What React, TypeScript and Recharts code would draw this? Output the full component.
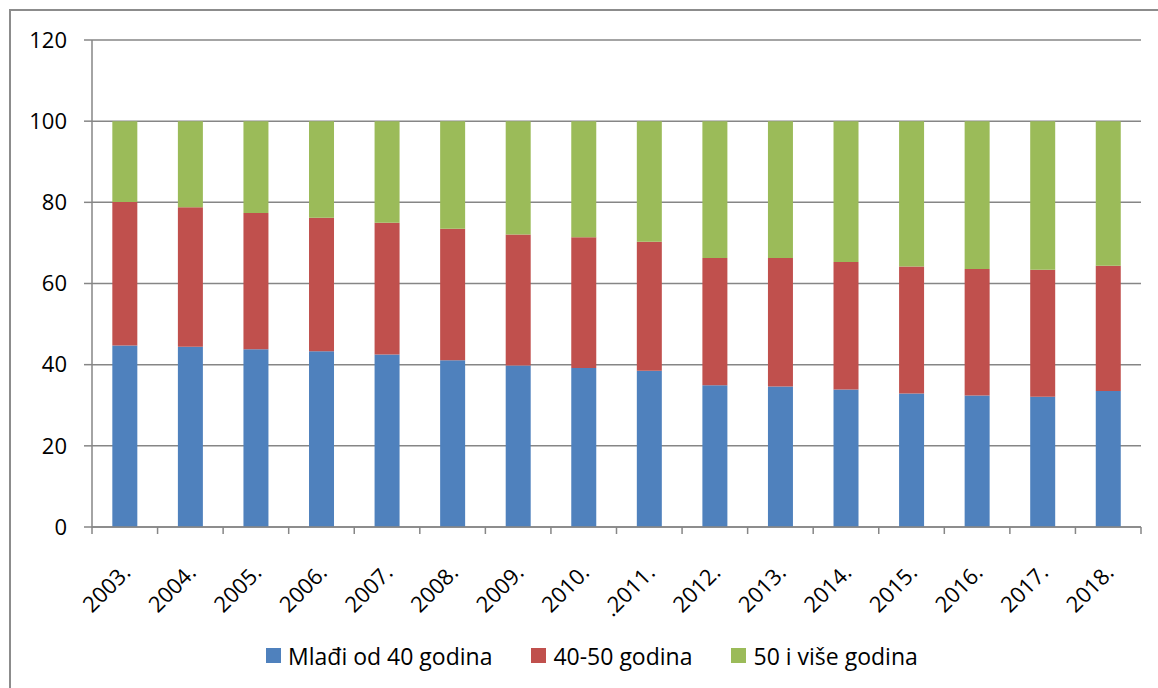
import React from "react"
import { BarChart, Bar, XAxis, YAxis, CartesianGrid } from "recharts"

const years = [
  "2003.", "2004.", "2005.", "2006.", "2007.", "2008.", "2009.", "2010.",
  ".2011.", "2012.", "2013.", "2014.", "2015.", "2016.", "2017.", "2018.",
]
const youngShare = [44.7, 44.4, 43.8, 43.3, 42.5, 41.1, 39.8, 39.2, 38.5, 34.9, 34.6, 33.9, 32.9, 32.4, 32.1, 33.5]
const midShare = [35.4, 34.4, 33.6, 32.9, 32.5, 32.4, 32.3, 32.2, 31.8, 31.4, 31.7, 31.4, 31.3, 31.2, 31.3, 30.9]
const oldShare = [19.9, 21.2, 22.6, 23.8, 25.0, 26.5, 27.9, 28.6, 29.7, 33.7, 33.7, 34.7, 35.8, 36.4, 36.6, 35.6]
const yTicks = [0, 20, 40, 60, 80, 100, 120]

const series = [
  { key: "young", name: "Mlađi od 40 godina", color: "#4F81BD" },
  { key: "mid", name: "40-50 godina", color: "#C0504D" },
  { key: "old", name: "50 i više godina", color: "#9BBB59" },
]

const data = years.map((year, i) => ({
  year,
  young: youngShare[i],
  mid: midShare[i],
  old: oldShare[i],
}))

const FONT = "'Open Sans', 'Noto Sans', sans-serif"
const AXIS = "#868686"
const W = 1158
const H = 688
const PLOT_LEFT = 92
const PLOT_RIGHT = 1141
const BAND = (PLOT_RIGHT - PLOT_LEFT) / years.length

function YearTick(props: any) {
  const { x, y, payload, index } = props
  const left = x - BAND / 2
  const tx = x + 7
  const ty = y + 47
  return (
    <g>
      <line x1={left} y1={y} x2={left} y2={y + 7} stroke={AXIS} strokeWidth={1.5} />
      {index === years.length - 1 && (
        <line x1={left + BAND} y1={y} x2={left + BAND} y2={y + 7} stroke={AXIS} strokeWidth={1.5} />
      )}
      <text
        x={tx}
        y={ty}
        textAnchor="end"
        transform={`rotate(-45, ${tx}, ${ty})`}
        fontSize={22}
        fontFamily={FONT}
        fill="#000"
      >
        {payload.value}
      </text>
    </g>
  )
}

function ValueTick(props: any) {
  const { x, y, payload } = props
  return (
    <text x={x} y={y} dy="0.355em" textAnchor="end" fontSize={22} fontFamily={FONT} fill="#000">
      {payload.value}
    </text>
  )
}

export default function App() {
  return (
    <div style={{ position: "absolute", left: 0, top: 0, width: W, height: H, overflow: "hidden", background: "#fff" }}>
      <div
        style={{
          position: "absolute",
          left: 9,
          top: 9,
          width: 1300,
          height: 900,
          border: "2px solid #8c8c8c",
        }}
      />
      <div style={{ position: "absolute", left: 0, top: 0 }}>
        <BarChart
          width={W}
          height={H}
          data={data}
          margin={{ top: 40, right: W - PLOT_RIGHT, bottom: 0, left: 0 }}
          barCategoryGap="31%"
        >
          <CartesianGrid vertical={false} stroke={AXIS} strokeWidth={1.5} />
          <XAxis
            dataKey="year"
            interval={0}
            height={H - 527}
            tickSize={0}
            tickMargin={0}
            tickLine={false}
            axisLine={{ stroke: AXIS, strokeWidth: 1.5 }}
            tick={<YearTick />}
          />
          <YAxis
            domain={[0, 120]}
            ticks={yTicks}
            width={PLOT_LEFT}
            tickSize={8}
            tickMargin={17}
            tickLine={{ stroke: AXIS, strokeWidth: 1.5 }}
            axisLine={{ stroke: AXIS, strokeWidth: 1.5 }}
            tick={<ValueTick />}
          />
          {series.map((s) => (
            <Bar key={s.key} dataKey={s.key} name={s.name} stackId="a" fill={s.color} isAnimationActive={false} />
          ))}
        </BarChart>
      </div>
      <div
        style={{
          position: "absolute",
          left: 266,
          top: 640,
          height: 31,
          display: "flex",
          alignItems: "center",
          gap: 39,
          fontFamily: FONT,
          fontSize: 23,
          color: "#000",
          whiteSpace: "nowrap",
        }}
      >
        {series.map((s) => (
          <div key={s.key} style={{ display: "flex", alignItems: "center", gap: 7 }}>
            <span style={{ width: 15, height: 15, background: s.color, display: "inline-block" }} />
            <span>{s.name}</span>
          </div>
        ))}
      </div>
    </div>
  )
}
